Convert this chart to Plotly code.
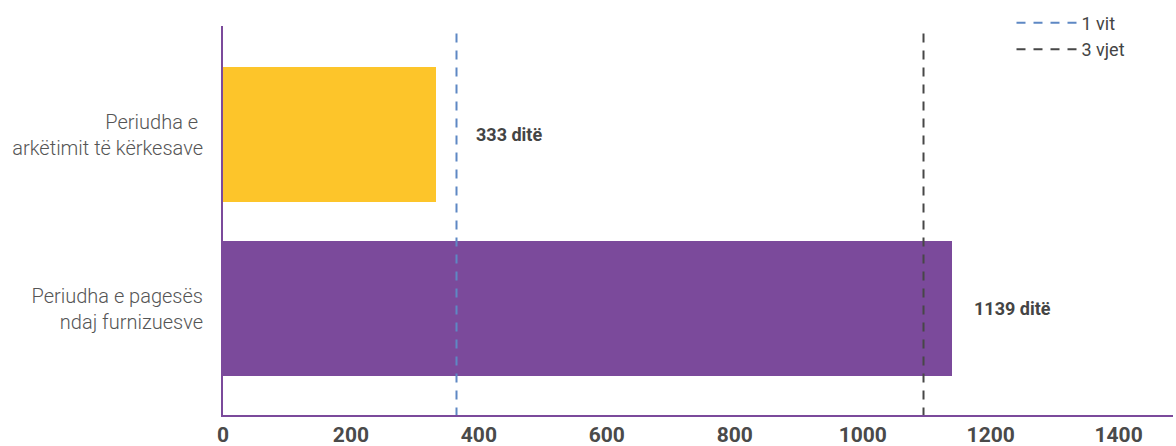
import plotly.graph_objects as go

categories = ["Periudha e pagesës<br>ndaj furnizuesve", "Periudha e <br>arkëtimit të kërkesave"]
values = [1139, 333]
bar_colors = ["#7B4A9B", "#FDC52A"]
value_labels = ["1139 ditë", "333 ditë"]
label_shifts = [20, 38]

ref_names = ["1 vit", "3 vjet"]
ref_values = [365, 1095]
ref_colors = ["#5E88C4", "#474747"]

tick_vals = [0, 200, 400, 600, 800, 1000, 1200, 1400]

fig = go.Figure()
fig.add_trace(go.Bar(
    y=categories, x=values, orientation="h",
    marker=dict(color=bar_colors, line=dict(width=0)),
    width=0.776, showlegend=False, hoverinfo="x",
))

for name, v, c in zip(ref_names, ref_values, ref_colors):
    fig.add_trace(go.Scatter(
        x=[v, v], y=[-0.62, 1.63], mode="lines", name=name,
        line=dict(color=c, width=2, dash="9px,8px"),
        yaxis="y2", hoverinfo="name",
    ))

for cat, v, txt, sh in zip(categories, values, value_labels, label_shifts):
    fig.add_annotation(
        x=v, y=cat, text=txt, showarrow=False, xanchor="left", xshift=sh,
        font=dict(family="Roboto", size=18, color="#444444", weight="bold"),
    )

fig.update_layout(
    width=1176, height=446,
    margin=dict(l=223, r=3, t=26, b=31, autoexpand=False),
    paper_bgcolor="white", plot_bgcolor="white",
    font=dict(family="Roboto", color="#555555"),
    xaxis=dict(
        range=[0, 1485], tickvals=tick_vals, showgrid=False, zeroline=False,
        showline=True, linecolor="#7B4A9B", linewidth=2, automargin=False,
        tickfont=dict(family="Roboto", size=21, color="#4A4A4A", weight="bold"),
        ticks="", ticklabelstandoff=0,
    ),
    yaxis=dict(
        type="category", range=[-0.612, 1.624], showgrid=False, zeroline=False,
        showline=True, linecolor="#7B4A9B", linewidth=2, automargin=False,
        tickfont=dict(family="Roboto", size=20, color="#555555", weight=300),
        ticks="", ticklabelstandoff=14,
    ),
    yaxis2=dict(range=[-0.612, 1.624], overlaying="y", visible=False),
    bargap=0,
    legend=dict(
        x=0.83, y=1.055, xanchor="left", yanchor="top",
        font=dict(family="Roboto", size=18, color="#444444"),
        bgcolor="rgba(0,0,0,0)", itemwidth=60, tracegroupgap=0,
    ),
)

fig.write_html(
    "out.html",
    config={"displayModeBar": False},
    post_script="document.body.style.margin='0';document.body.style.overflow='hidden';",
)
